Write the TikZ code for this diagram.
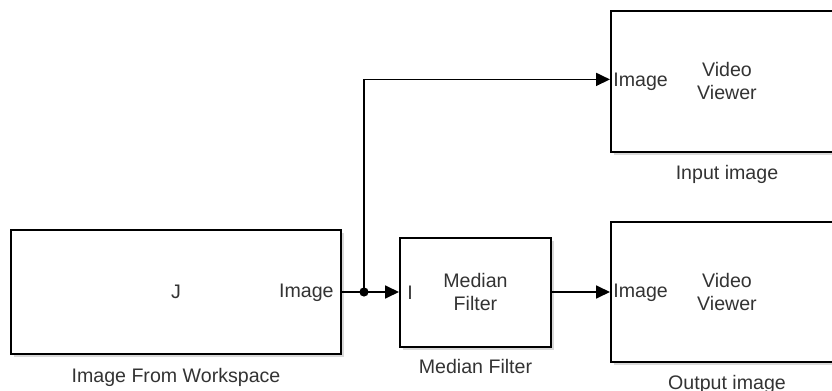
\documentclass[tikz,border=0pt]{standalone}
\usepackage{fontspec}
\setmainfont{Liberation Sans}
\usetikzlibrary{arrows.meta, positioning, calc, shadows}
\definecolor{simtext}{HTML}{333333}

\begin{document}
\begin{tikzpicture}[
  x=0.5pt, y=0.5pt,
  block/.style={
    rectangle, draw=black, line width=1pt, fill=white,
    drop shadow={shadow xshift=1.5pt, shadow yshift=-1.5pt, opacity=0.3},
    font=\fontsize{9.8}{11.6}\selectfont, text=simtext, align=center
  },
  port/.style={inner sep=0pt, font=\fontsize{9.8}{12}\selectfont, text=simtext},
  caption/.style={inner sep=0pt, font=\fontsize{9.8}{12}\selectfont, text=simtext},
  signal/.style={line width=0.9pt, -{Triangle[length=7pt, width=6.5pt]}}
]
  \useasboundingbox (0,0) rectangle (832,-391);

  % Blocks
  \node[block, minimum width=165pt, minimum height=62pt] (workspace) at (176,-292) {J};
  \node[block, minimum width=75.5pt, minimum height=54.5pt] (median) at (475.5,-292) {Median\\Filter};
  \node[block, minimum width=116pt, minimum height=70.5pt] (viewerin) at (727,-81) {Video\\Viewer};
  \node[block, minimum width=116pt, minimum height=70pt] (viewerout) at (727,-292) {Video\\Viewer};

  % Port labels
  \node[port, anchor=east] (wsport) at ([xshift=-4pt,yshift=-0.5pt]workspace.east) {Image};
  \node[port, anchor=west] (mfport) at ([xshift=4pt,yshift=-0.5pt]median.west) {I};
  \node[port, anchor=west] (viport) at ([xshift=1.5pt,yshift=-0.5pt]viewerin.west) {Image};
  \node[port, anchor=west] (voport) at ([xshift=1.5pt,yshift=-0.5pt]viewerout.west) {Image};

  % Captions below
  \node[caption, below=6.5pt of workspace] (wscap) {Image From Workspace};
  \node[caption, below=5.5pt of median] (mfcap) {Median Filter};
  \node[caption, below=6pt of viewerin] (vicap) {Input image};
  \node[caption, below=6pt of viewerout] (vocap) {Output image};

  % Signals
  \coordinate (split) at ([xshift=11pt]workspace.east);
  \draw[line width=0.9pt] (workspace.east) -- (split);
  \draw[signal] (split) -- (median.west);
  \draw[signal] (split) |- ([yshift=0.8pt]viewerin.west);
  \draw[signal] (median.east) -- (viewerout.west);
  \fill (split) circle (2.3pt);
\end{tikzpicture}
\end{document}
